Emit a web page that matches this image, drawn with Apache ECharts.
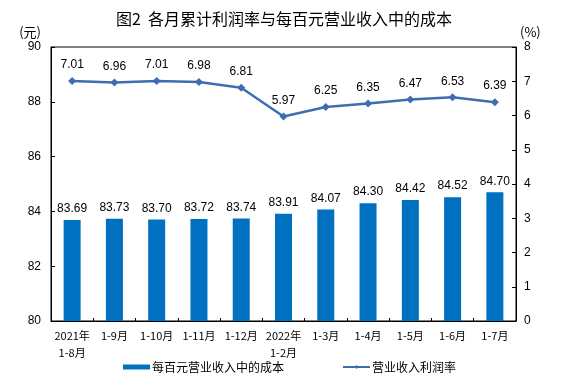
<!DOCTYPE html>
<html><head><meta charset="utf-8">
<script src="https://cdn.jsdelivr.net/npm/echarts@6/dist/echarts.min.js"></script>
<style>html,body{margin:0;padding:0;background:#fff}#c{width:563px;height:392px}</style>
</head><body><div id="c"></div>
<script>
const categories = ['2021年\n1-8月','1-9月','1-10月','1-11月','1-12月','2022年\n1-2月','1-3月','1-4月','1-5月','1-6月','1-7月'];
const costPer100 = [83.69,83.73,83.70,83.72,83.74,83.91,84.07,84.30,84.42,84.52,84.70];
const profitRate = [7.01,6.96,7.01,6.98,6.81,5.97,6.25,6.35,6.47,6.53,6.39];
const leftTicks = [80,82,84,86,88,90];
const rightTicks = [0,1,2,3,4,5,6,7,8];

const cjk = '"Liberation Sans", Arial, "Noto Sans CJK SC", sans-serif';
const zh = '"Noto Sans CJK SC", sans-serif';
const chart = echarts.init(document.getElementById('c'), null, {renderer:'canvas'});
chart.setOption({
  animation:false,
  backgroundColor:'#fff',
  textStyle:{fontFamily:cjk},
  title:{
    text:'图2  各月累计利润率与每百元营业收入中的成本',
    left:111, top:6,
    textStyle:{fontSize:16, fontWeight:'normal', color:'#000', fontFamily:zh}
  },
  grid:{left:51, right:47, top:47, bottom:71, show:true, borderColor:'#000', borderWidth:1},
  legend:{
    bottom:14, left:118, itemGap:58,
    textStyle:{fontSize:12, color:'#000', fontFamily:zh, padding:[0,0,0,-3]},
    data:[
      {name:'每百元营业收入中的成本', icon:'rect', itemStyle:{color:'#0070C0'}},
      {name:'营业收入利润率'}
    ],
    itemWidth:27, itemHeight:5
  },
  xAxis:{
    type:'category', data:categories,
    axisLine:{lineStyle:{color:'#000'}},
    axisTick:{show:true, inside:true, length:3, lineStyle:{color:'#000'}},
    axisLabel:{fontSize:11, color:'#000', interval:0, lineHeight:17, margin:6, fontFamily:zh}
  },
  yAxis:[
    {type:'value', min:80, max:90, interval:2, name:'(元)', nameGap:8,
     nameTextStyle:{fontSize:13, color:'#000', align:'right', padding:[0,10,0,0], fontFamily:zh},
     axisLine:{show:true, lineStyle:{color:'#000'}},
     axisTick:{show:true, inside:true, length:4, lineStyle:{color:'#000'}},
     axisLabel:{fontSize:12, color:'#000', margin:10, formatter:v=>leftTicks.includes(v)?String(v):''},
     splitLine:{show:false}},
    {type:'value', min:0, max:8, interval:1, name:'(%)', nameGap:8,
     nameTextStyle:{fontSize:13, color:'#000', align:'left', padding:[0,0,0,4], fontFamily:zh},
     axisLine:{show:true, lineStyle:{color:'#000'}},
     axisTick:{show:true, inside:true, length:4, lineStyle:{color:'#000'}},
     axisLabel:{fontSize:12, color:'#000', margin:8, formatter:v=>rightTicks.includes(v)?String(v):''},
     splitLine:{show:false}}
  ],
  series:[
    {name:'每百元营业收入中的成本', type:'bar', yAxisIndex:0, data:costPer100, barWidth:17,
     itemStyle:{color:'#0070C0'},
     label:{show:true, position:'top', distance:5, fontSize:12, color:'#000', formatter:p=>p.value.toFixed(2)}},
    {name:'营业收入利润率', type:'line', yAxisIndex:1, data:profitRate,
     symbol:'diamond', symbolSize:8, showAllSymbol:true,
     lineStyle:{color:'#3E6DB0', width:2.5}, itemStyle:{color:'#3E6DB0'},
     label:{show:true, position:'top', distance:6, fontSize:12, color:'#000', formatter:p=>p.value.toFixed(2)}}
  ]
});
</script></body></html>
